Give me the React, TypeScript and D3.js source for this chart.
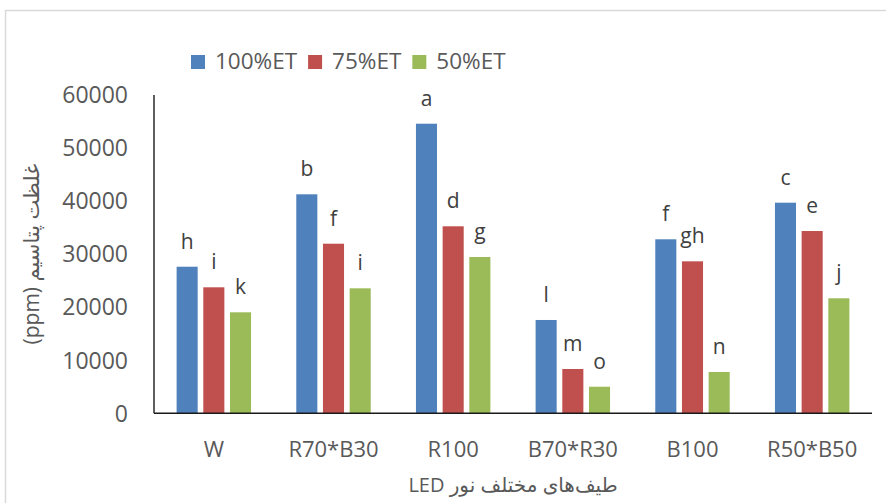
import React, { useEffect, useRef } from 'react';
import * as d3 from 'd3';

const categories = ['W', 'R70*B30', 'R100', 'B70*R30', 'B100', 'R50*B50'];
const seriesNames = ['100%ET', '75%ET', '50%ET'];
const et100 = [27630, 41280, 54590, 17590, 32800, 39700];
const et75 = [23750, 31970, 35250, 8350, 28650, 34360];
const et50 = [19040, 23560, 29460, 5010, 7790, 21680];
const letters100 = ['h', 'b', 'a', 'l', 'f', 'c'];
const letters75 = ['i', 'f', 'd', 'm', 'gh', 'e'];
const letters50 = ['k', 'i', 'g', 'o', 'n', 'j'];
const yTicks = [0, 10000, 20000, 30000, 40000, 50000, 60000];
const yTitle = 'غلظت پتاسیم (ppm)';
const xTitle = 'طیف‌های مختلف نور LED';
const colors = ['#4F81BD', '#C0504D', '#9BBB59'];

const W = 886;
const H = 503;
const plot = { left: 154, right: 872, top: 95, bottom: 413.3 };
const FONT = '"Open Sans", "DejaVu Sans", sans-serif';

export default function App() {
  const ref = useRef<SVGSVGElement>(null);

  useEffect(() => {
    const svg = d3.select(ref.current);
    svg.selectAll('*').remove();

    // outer chart border
    svg.append('rect')
      .attr('x', 5.5).attr('y', 10.5).attr('width', 900).attr('height', 520)
      .attr('fill', 'white').attr('stroke', '#d9d9d9').attr('stroke-width', 1.5);

    const x0 = d3.scaleBand<string>().domain(categories).range([plot.left, plot.right]).padding(0);
    const y = d3.scaleLinear().domain([0, 60000]).range([plot.bottom, plot.top]);
    const bw = x0.bandwidth();
    const barW = bw * 0.176;
    const step = bw * 0.223;

    const series = [et100, et75, et50];
    const letters = [letters100, letters75, letters50];

    // y tick labels
    svg.append('g').selectAll('text').data(yTicks).join('text')
      .attr('x', 128).attr('y', (d) => y(d)).attr('dy', '0.36em')
      .attr('text-anchor', 'end')
      .attr('font-family', FONT).attr('font-size', 23).attr('fill', '#595959')
      .text((d) => String(d));

    // bars and letters
    series.forEach((vals, si) => {
      const g = svg.append('g');
      const bx = (c: string) => (x0(c) as number) + bw / 2 + (si - 1) * step - barW / 2;
      g.selectAll('rect').data(categories).join('rect')
        .attr('x', (c) => bx(c))
        .attr('y', (c, i) => y(vals[i]))
        .attr('width', barW)
        .attr('height', (c, i) => y(0) - y(vals[i]))
        .attr('fill', colors[si]);
      g.selectAll('text').data(categories).join('text')
        .attr('x', (c) => bx(c) + barW / 2)
        .attr('y', (c, i) => y(vals[i]) - 18)
        .attr('text-anchor', 'middle')
        .attr('font-family', FONT).attr('font-size', 21).attr('fill', '#404040')
        .text((c, i) => letters[si][i]);
    });

    // axes lines
    svg.append('line')
      .attr('x1', plot.left).attr('x2', plot.left).attr('y1', plot.top).attr('y2', plot.bottom)
      .attr('stroke', '#1a1a1a').attr('stroke-width', 1.4);
    svg.append('line')
      .attr('x1', plot.left).attr('x2', plot.right).attr('y1', plot.bottom).attr('y2', plot.bottom)
      .attr('stroke', '#1a1a1a').attr('stroke-width', 1.4);

    // x category labels
    svg.append('g').selectAll('text').data(categories).join('text')
      .attr('x', (c) => (x0(c) as number) + bw / 2).attr('y', 457)
      .attr('text-anchor', 'middle')
      .attr('font-family', FONT).attr('font-size', 22).attr('fill', '#595959')
      .text((c) => c);

    // x title
    svg.append('text')
      .attr('x', (plot.left + plot.right) / 2).attr('y', 492)
      .attr('text-anchor', 'middle').attr('direction', 'rtl')
      .attr('font-family', FONT).attr('font-size', 20).attr('fill', '#595959')
      .text(xTitle);

    // y title
    svg.append('text')
      .attr('transform', `translate(32, ${(plot.top + plot.bottom) / 2}) rotate(-90)`)
      .attr('text-anchor', 'middle').attr('direction', 'rtl').attr('dy', '0.35em')
      .attr('font-family', FONT).attr('font-size', 21).attr('fill', '#595959')
      .text(yTitle);

    // legend
    const lg = svg.append('g');
    let lx = 191;
    seriesNames.forEach((name, i) => {
      lg.append('rect').attr('x', lx).attr('y', 55).attr('width', 14).attr('height', 14).attr('fill', colors[i]);
      const t = lg.append('text')
        .attr('x', lx + 24).attr('y', 69)
        .attr('font-family', FONT).attr('font-size', 22.5).attr('fill', '#595959')
        .text(name);
      const len = (t.node() as SVGTextElement).getComputedTextLength();
      lx = lx + 24 + len + 11;
    });
  }, []);

  return (
    <svg ref={ref} width={W} height={H}
      style={{ position: 'absolute', left: 0, top: 0, background: 'white' }} />
  );
}
